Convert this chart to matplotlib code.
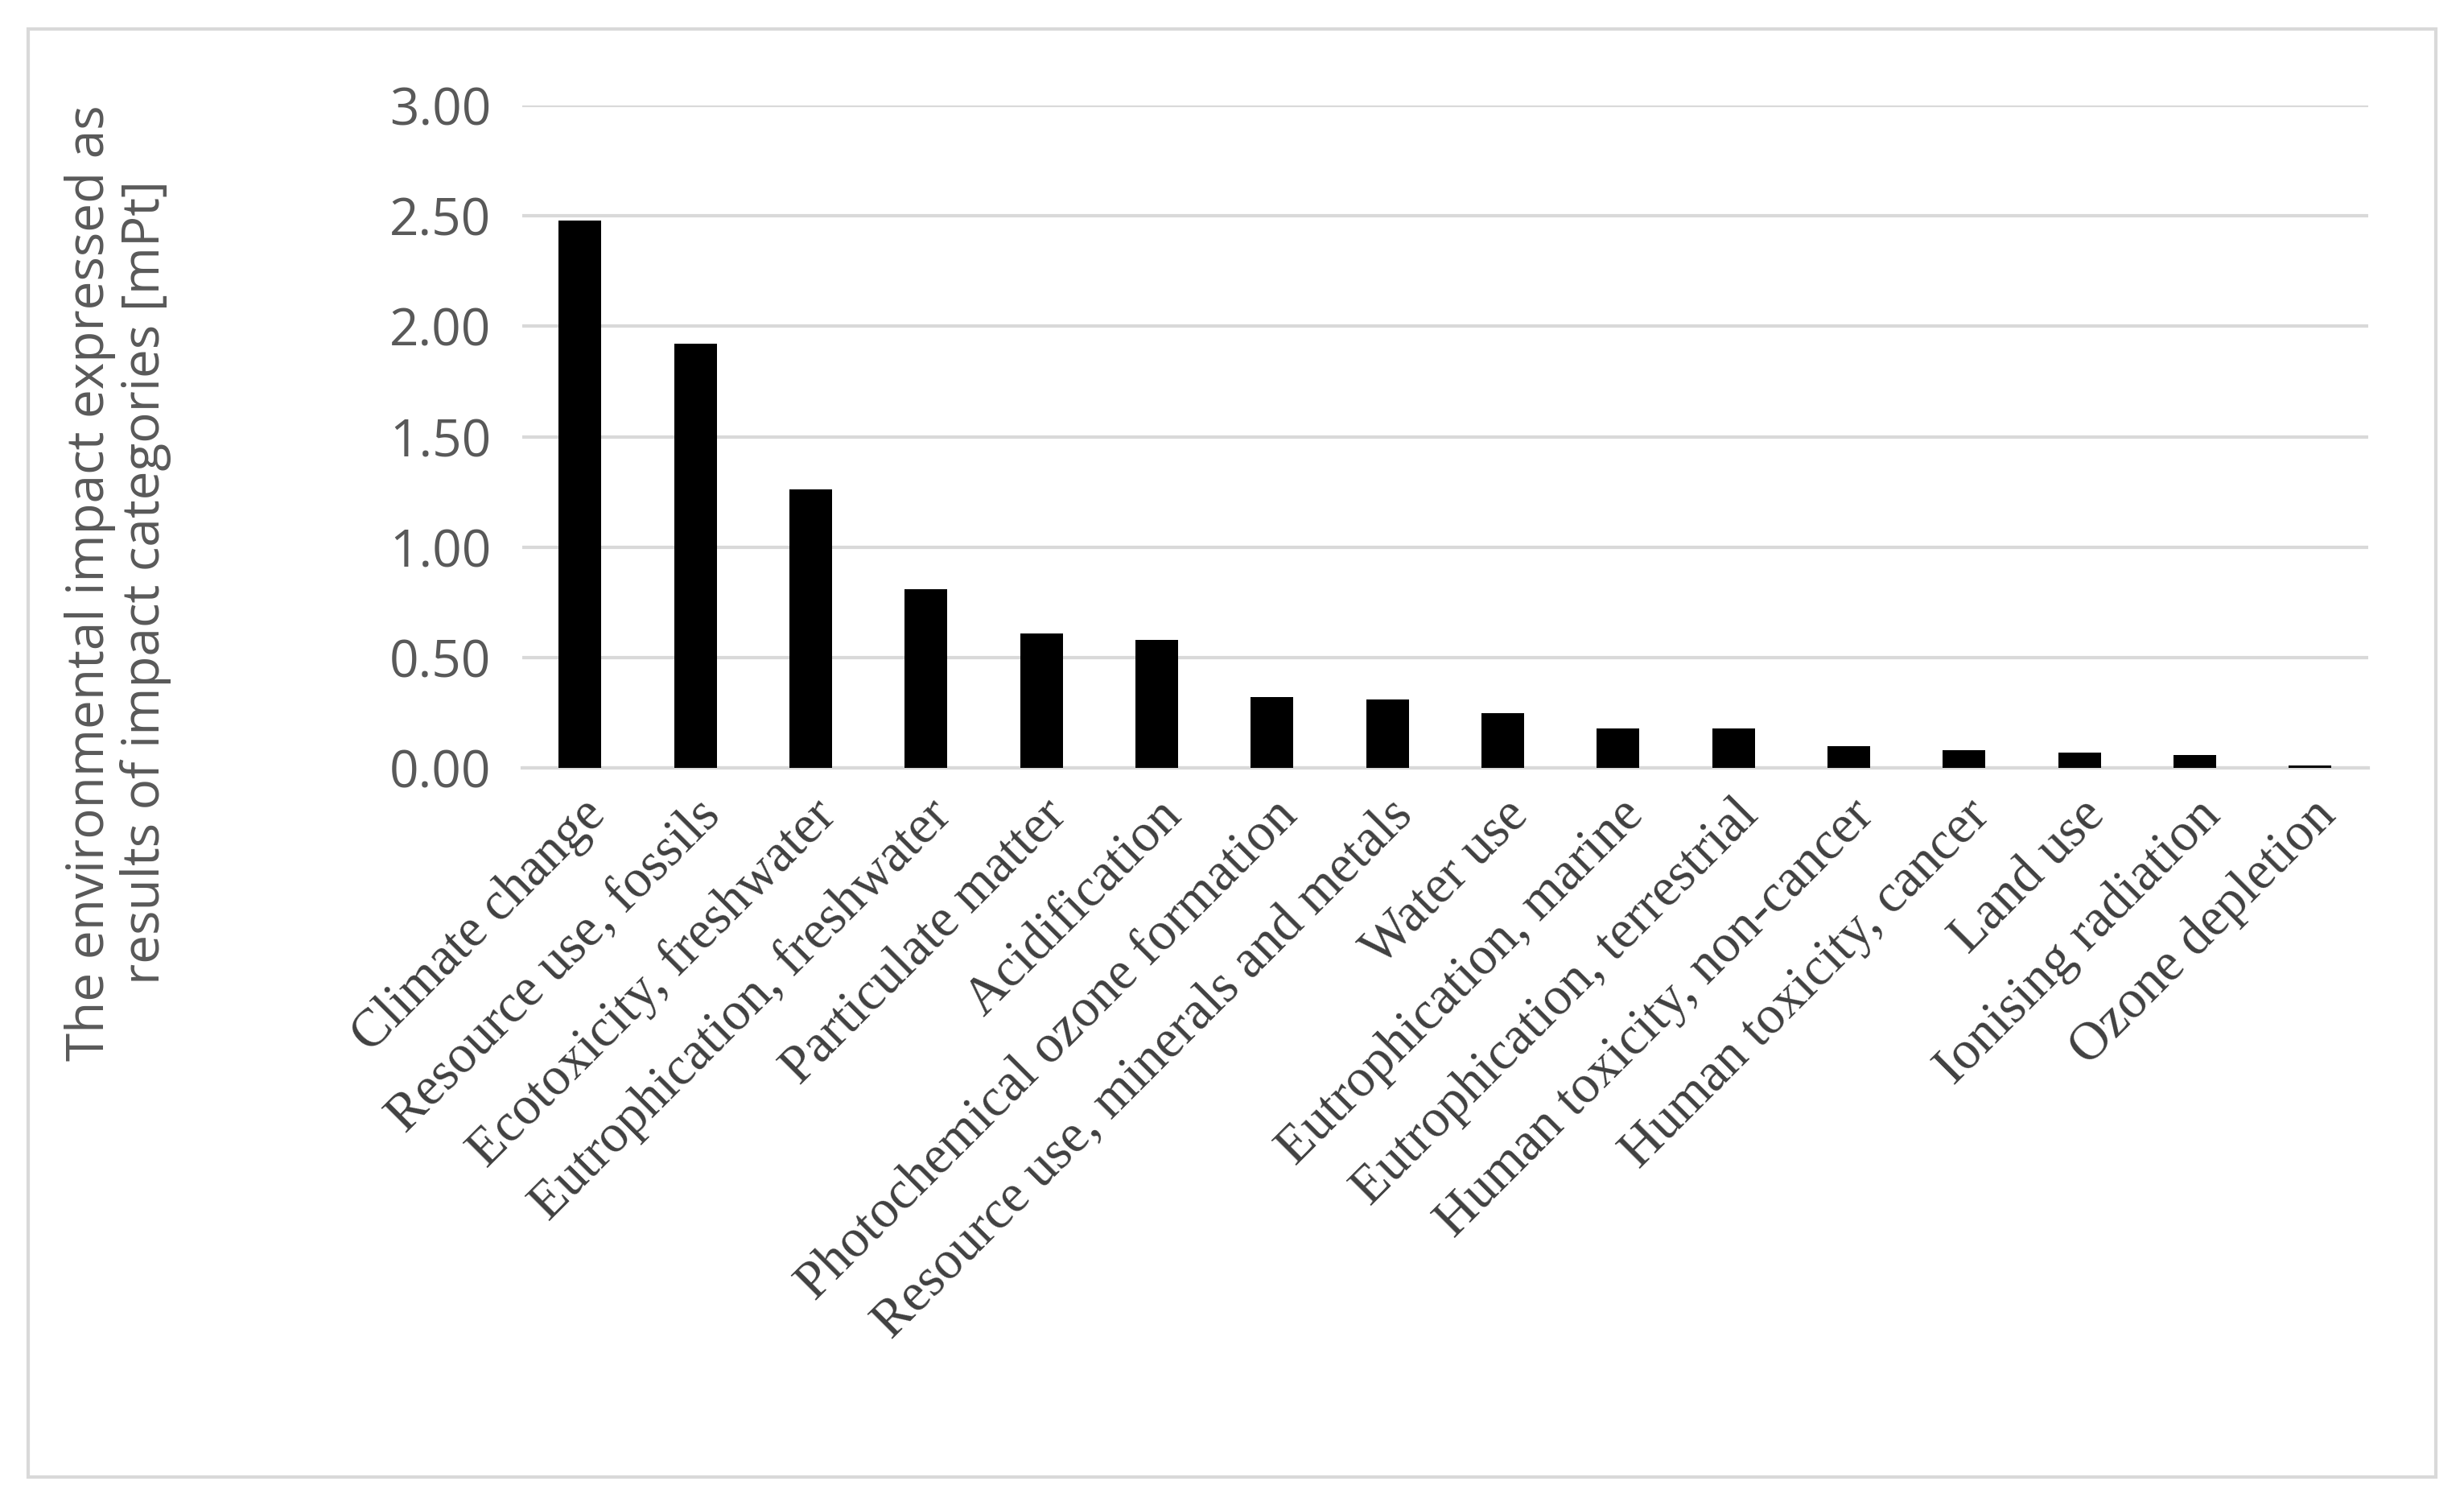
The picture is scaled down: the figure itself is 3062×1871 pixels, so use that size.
import matplotlib.pyplot as plt
from matplotlib.patches import Rectangle

categories = ['Climate change', 'Resource use, fossils', 'Ecotoxicity, freshwater',
              'Eutrophication, freshwater', 'Particulate matter', 'Acidification',
              'Photochemical ozone formation', 'Resource use, minerals and metals',
              'Water use', 'Eutrophication, marine', 'Eutrophication, terrestrial',
              'Human toxicity, non-cancer', 'Human toxicity, cancer', 'Land use',
              'Ionising radiation', 'Ozone depletion']
values = [2.48, 1.92, 1.26, 0.81, 0.61, 0.58, 0.32, 0.31, 0.25, 0.18, 0.18,
          0.10, 0.08, 0.07, 0.06, 0.01]
yticks = [0, 0.5, 1.0, 1.5, 2.0, 2.5, 3.0]

fig = plt.figure(figsize=(15.31, 9.355), dpi=200)
ax = fig.add_axes([0.212, 0.490, 0.749, 0.440])
x = range(len(categories))
ax.bar(x, values, width=0.37, color='black', zorder=3)
ax.set_xlim(-0.5, len(categories) - 0.5)
ax.set_ylim(0, 3.0)
ax.set_yticks(yticks)
ax.set_yticklabels([f'{v:.2f}' for v in yticks], fontsize=23, color='#595959',
                   family='Open Sans')
ax.grid(axis='y', color='#d9d9d9', linewidth=1.5, zorder=0)
for s in ['top', 'right', 'left']:
    ax.spines[s].set_visible(False)
ax.spines['bottom'].set_color('#d9d9d9')
ax.spines['bottom'].set_linewidth(1.5)
ax.tick_params(axis='y', length=0, pad=14)
ax.tick_params(axis='x', length=0, pad=10)
ax.set_xticks(list(x))
ax.set_xticklabels(categories, rotation=45, ha='right', rotation_mode='anchor',
                   fontsize=24, family='Liberation Serif', color='#404040')
ax.set_ylabel('The environmental impact expressed as\nresults of impact categories [mPt]',
              fontsize=23, color='#595959', family='Open Sans', linespacing=1.1)
ax.yaxis.set_label_coords(-0.19, 0.28)

fig.patches.append(Rectangle((0.0115, 0.019), 0.977, 0.962, transform=fig.transFigure,
                             fill=False, edgecolor='#d9d9d9', linewidth=1.5))
fig.savefig('out.png', dpi=200)
